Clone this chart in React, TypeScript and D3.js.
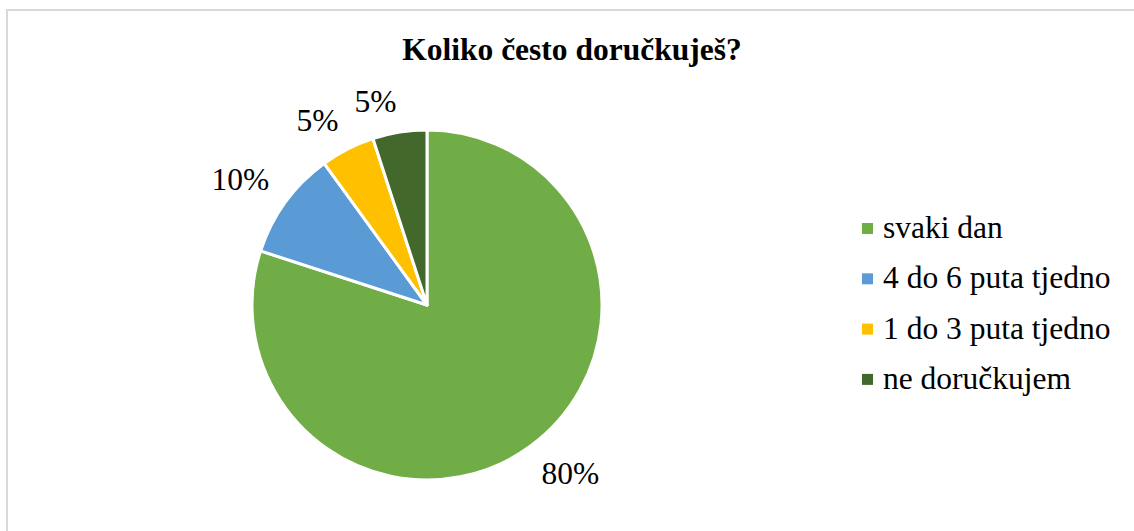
import { useEffect, useRef } from 'react';
import * as d3 from 'd3';

const title = 'Koliko često doručkuješ?';
const categories = ['svaki dan', '4 do 6 puta tjedno', '1 do 3 puta tjedno', 'ne doručkujem'];
const values = [80, 10, 5, 5];
const colors = ['#70AD47', '#5B9BD5', '#FFC000', '#43682B'];

const App = () => {
  const svgRef = useRef<SVGSVGElement>(null);

  useEffect(() => {
    const width = 1134;
    const height = 531;
    const cx = 427;
    const cy = 305;
    const radius = 175;
    const font = 'Liberation Serif';
    const fs = 31.5;

    const svg = d3.select(svgRef.current);
    svg.selectAll('*').remove();
    svg.attr('width', width).attr('height', height);

    svg.append('rect')
      .attr('x', 0).attr('y', 0)
      .attr('width', width).attr('height', height)
      .attr('fill', '#fff');

    // chart area border
    svg.append('rect')
      .attr('x', 7).attr('y', 10)
      .attr('width', width + 20).attr('height', height + 20)
      .attr('fill', 'none')
      .attr('stroke', '#d9d9d9')
      .attr('stroke-width', 2);

    svg.append('text')
      .attr('x', 572).attr('y', 60)
      .attr('text-anchor', 'middle')
      .style('font-family', font)
      .style('font-weight', 'bold')
      .style('font-size', `${fs}px`)
      .text(title);

    const data = categories.map((c, i) => ({ label: c, value: values[i], color: colors[i] }));
    const totals = d3.sum(values);

    const pie = d3.pie<any>().value(d => d.value).sort(null);
    const arcs = pie(data);
    const arc = d3.arc<any>().innerRadius(0).outerRadius(radius);

    const g = svg.append('g').attr('transform', `translate(${cx},${cy})`);

    g.selectAll('path')
      .data(arcs)
      .join('path')
      .attr('d', arc)
      .attr('fill', d => d.data.color)
      .attr('stroke', '#fff')
      .attr('stroke-width', 3)
      .attr('stroke-linejoin', 'round');

    // outside-end labels
    const labelArc = d3.arc<any>().innerRadius(radius + 20).outerRadius(radius + 20);
    const labels = g.selectAll('text.lbl')
      .data(arcs)
      .join('text')
      .attr('class', 'lbl')
      .style('font-family', font)
      .style('font-size', `${fs}px`)
      .attr('text-anchor', 'middle')
      .attr('dominant-baseline', 'central')
      .text(d => `${Math.round((d.data.value / totals) * 100)}%`);

    labels.each(function (d) {
      const el = this as SVGTextElement;
      const w = el.getComputedTextLength();
      const h = 22;
      const [px, py] = labelArc.centroid(d);
      const ox = px >= 0 ? w / 2 : -w / 2;
      const oy = py >= 0 ? h / 2 : -h / 2;
      d3.select(el).attr('x', px + ox).attr('y', py + oy);
    });

    const legend = svg.append('g').attr('transform', 'translate(862,238)');
    const item = legend.selectAll('g')
      .data(data)
      .join('g')
      .attr('transform', (_, i) => `translate(0,${i * 50.3})`);

    item.append('rect')
      .attr('x', 0).attr('y', -15)
      .attr('width', 11).attr('height', 11)
      .attr('fill', d => d.color);

    item.append('text')
      .attr('x', 21).attr('y', 0)
      .style('font-family', font)
      .style('font-size', `${fs}px`)
      .text(d => d.label);
  }, []);

  return <svg ref={svgRef} style={{ position: 'absolute', left: 0, top: 0 }}></svg>;
};

export default App;
